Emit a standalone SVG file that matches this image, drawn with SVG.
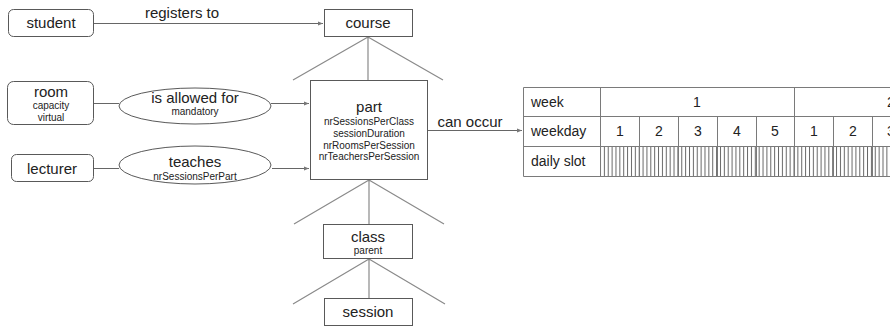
<svg xmlns="http://www.w3.org/2000/svg" width="890" height="327" viewBox="0 0 890 327">
<defs>
<style>
.box{fill:#fff;stroke:#595959;stroke-width:1}
.ln{fill:none;stroke:#666;stroke-width:1}
.tree{fill:none;stroke:#8a8a8a;stroke-width:1.2}
.t{font-family:"Liberation Sans",Arial,sans-serif;fill:#222;text-anchor:middle}
.big{font-size:15px}
.sm{font-size:10px}
.tb{font-size:14px}
.grid{fill:none;stroke:#7a7a7a;stroke-width:1}
</style>
<marker id="arr" markerWidth="6" markerHeight="6" refX="5" refY="3" orient="auto" markerUnits="userSpaceOnUse">
<path d="M0,1 L5,3 L0,5 Z" fill="#777"/>
</marker>
<pattern id="slots" x="600" y="146" width="3.87" height="31" patternUnits="userSpaceOnUse">
<line x1="0.5" y1="0" x2="0.5" y2="31" stroke="#666" stroke-width="1"/>
</pattern>
</defs>
<rect width="890" height="327" fill="#fff"/>

<g id="connectors">
<line class="ln" x1="94" y1="23.5" x2="323" y2="23.5" marker-end="url(#arr)"/>
<line class="ln" x1="94" y1="103.5" x2="119" y2="103.5"/>
<line class="ln" x1="271" y1="103.5" x2="309" y2="103.5" marker-end="url(#arr)"/>
<line class="ln" x1="94" y1="168.5" x2="119" y2="168.5"/>
<line class="ln" x1="272" y1="168.5" x2="309" y2="168.5" marker-end="url(#arr)"/>
<line class="ln" x1="428" y1="130.5" x2="522" y2="130.5" marker-end="url(#arr)"/>
<text class="t big" x="182" y="18">registers to</text>
<text class="t big" x="470" y="127">can occur</text>
<path class="tree" d="M368,37 L293,80 M368,37 L368,80 M368,37 L443,80"/>
<path class="tree" d="M369,180 L294,224 M369,180 L369,224 M369,180 L444,224"/>
<path class="tree" d="M369,259 L293,304 M369,259 L369,298 M369,259 L445,304"/>
</g>

<g id="student">
<rect class="box" x="8.5" y="9.5" width="85" height="27" rx="5"/>
<text class="t big" x="51" y="28">student</text>
</g>
<g id="course">
<rect class="box" x="324.5" y="9.5" width="88" height="27"/>
<text class="t big" x="368" y="28">course</text>
</g>
<g id="room">
<rect class="box" x="7.5" y="81.5" width="86" height="43" rx="6"/>
<text class="t big" x="51" y="97">room</text>
<text class="t sm" x="51" y="109">capacity</text>
<text class="t sm" x="51" y="121">virtual</text>
</g>
<g id="is-allowed-for">
<ellipse class="box" cx="195" cy="106" rx="76" ry="18"/>
<text class="t big" x="195" y="103">is allowed for</text>
<text class="t sm" x="195" y="115">mandatory</text>
</g>
<g id="lecturer">
<rect class="box" x="11.5" y="154.5" width="82" height="27" rx="5"/>
<text class="t big" x="52" y="174">lecturer</text>
</g>
<g id="teaches">
<ellipse class="box" cx="195" cy="165" rx="76" ry="19"/>
<text class="t big" x="195" y="167">teaches</text>
<text class="t sm" x="195" y="180">nrSessionsPerPart</text>
</g>
<g id="part">
<rect class="box" x="310.5" y="80.5" width="117" height="99"/>
<text class="t big" x="369" y="112">part</text>
<text class="t sm" x="369" y="125">nrSessionsPerClass</text>
<text class="t sm" x="369" y="137">sessionDuration</text>
<text class="t sm" x="369" y="148.5">nrRoomsPerSession</text>
<text class="t sm" x="369" y="160">nrTeachersPerSession</text>
</g>
<g id="class">
<rect class="box" x="323.5" y="224.5" width="89" height="34"/>
<text class="t big" x="368" y="242">class</text>
<text class="t sm" x="368" y="254">parent</text>
</g>
<g id="session">
<rect class="box" x="324.5" y="298.5" width="88" height="27"/>
<text class="t big" x="368" y="317">session</text>
</g>

<g id="timetable">
<rect x="600" y="146" width="300" height="31" fill="url(#slots)"/>
<path class="grid" d="M523.5,87.5 H900 M523.5,116.5 H900 M523.5,146.5 H900 M523.5,176.5 H900 M523.5,87.5 V176.5 M600.5,87.5 V176.5 M794.5,87.5 V176.5 M639.5,116.5 V176.5 M678.5,116.5 V176.5 M717.5,116.5 V176.5 M756.5,116.5 V176.5 M833.5,116.5 V176.5 M872.5,116.5 V176.5"/>
<g class="t tb" style="text-anchor:start">
<text x="531" y="107">week</text>
<text x="531" y="136">weekday</text>
<text x="531" y="166">daily slot</text>
</g>
<g class="t tb">
<text x="697" y="107">1</text>
<text x="891" y="107">2</text>
<text x="620" y="136">1</text>
<text x="659" y="136">2</text>
<text x="698" y="136">3</text>
<text x="737" y="136">4</text>
<text x="775" y="136">5</text>
<text x="814" y="136">1</text>
<text x="853" y="136">2</text>
<text x="891" y="136">3</text>
</g>
</g>
</svg>
